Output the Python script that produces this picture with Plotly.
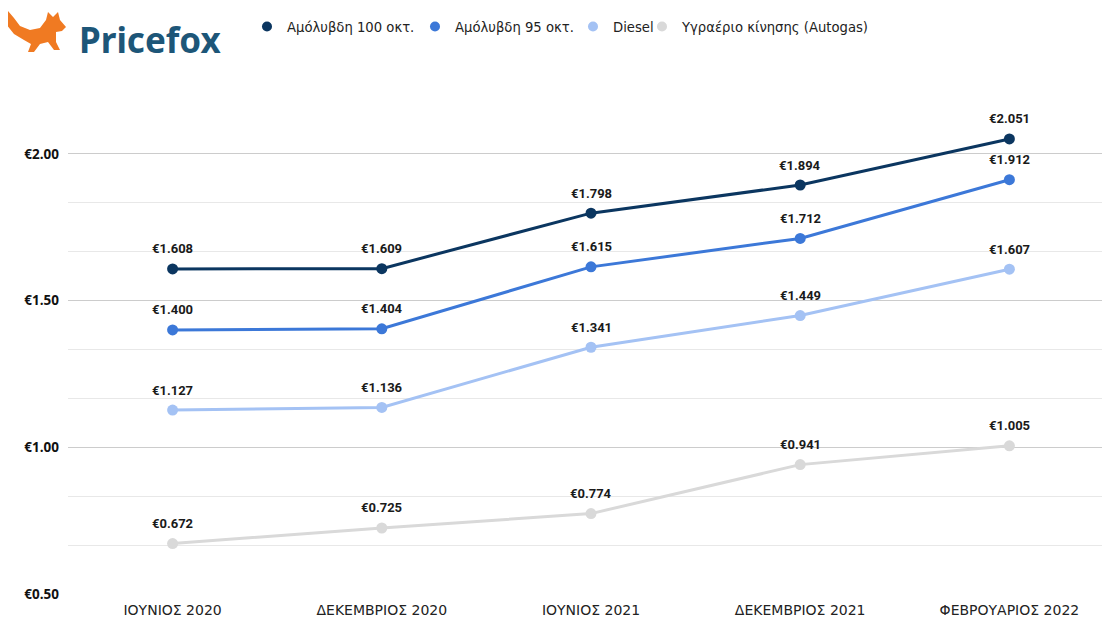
import plotly.graph_objects as go

categories = ["ΙΟΥΝΙΟΣ 2020", "ΔΕΚΕΜΒΡΙΟΣ 2020", "ΙΟΥΝΙΟΣ 2021", "ΔΕΚΕΜΒΡΙΟΣ 2021", "ΦΕΒΡΟΥΑΡΙΟΣ 2022"]
unleaded100 = [1.608, 1.609, 1.798, 1.894, 2.051]
unleaded95 = [1.400, 1.404, 1.615, 1.712, 1.912]
diesel = [1.127, 1.136, 1.341, 1.449, 1.607]
autogas = [0.672, 0.725, 0.774, 0.941, 1.005]
series_names = ["Αμόλυβδη 100 οκτ.", "Αμόλυβδη 95 οκτ.", "Diesel", "Υγραέριο κίνησης (Autogas)"]
colors = ["#0b3660", "#3c78d8", "#a4c2f4", "#d9d9d9"]
ytick_vals = [0.5, 1.0, 1.5, 2.0]
ytick_text = ["€0.50", "€1.00", "€1.50", "€2.00"]

# page has 8px body margin, so figure coords = page coords - 8
L, T, B, R = 60, 97, 43, 4
W, H = 1110, 629
PW, PH = W - L - R, H - T - B

def dom(xp, yp):
    xf, yf = xp - 8, yp - 8
    return (xf - L) / PW, (H - B - yf) / PH

fig = go.Figure()
xs = list(range(len(categories)))
for name, vals, col in zip(series_names, [unleaded100, unleaded95, diesel, autogas], colors):
    fig.add_trace(go.Scatter(
        x=xs, y=vals, name=name, mode="lines+markers", showlegend=False,
        line=dict(color=col, width=3), marker=dict(color=col, size=11),
        cliponaxis=False,
    ))
    for xi, v in zip(xs, vals):
        fig.add_annotation(x=xi, y=v, text=f"€{v:.3f}", showarrow=False, yshift=20,
                           font=dict(family="Roboto", size=13, color="#1a1a1a", weight="bold"))

# legend entries: dots only, each in its own legend box for exact placement
legend_ids = ["legend", "legend2", "legend3", "legend4"]
legend_marker_px = [268, 436, 594, 663]
for name, col, lid in zip(series_names, colors, legend_ids):
    fig.add_trace(go.Scatter(x=[None], y=[None], name=name, mode="markers", legend=lid,
                             marker=dict(color=col, size=10)))

layout_legends = {}
for lid, mx in zip(legend_ids, legend_marker_px):
    layout_legends[lid] = dict(orientation="h", x=(mx - 29) / W, xref="container", y=1 - 19 / H,
                               yref="container", yanchor="middle", xanchor="left",
                               font=dict(family="DejaVu Sans", size=13.2, color="#222"),
                               itemwidth=30, itemclick=False, bgcolor="rgba(0,0,0,0)")

fig.update_layout(
    width=W, height=H,
    margin=dict(l=L, r=R, t=T, b=B),
    paper_bgcolor="white", plot_bgcolor="white",
    showlegend=True,
    xaxis=dict(range=[-0.5, 4.5], tickmode="array", tickvals=xs,
               ticktext=categories, showgrid=False, zeroline=False, showline=False,
               ticklabelstandoff=6,
               tickfont=dict(family="DejaVu Sans", size=14, color="#222")),
    yaxis=dict(range=[0.5, 2.1667], tickmode="array", tickvals=ytick_vals, ticktext=ytick_text,
               showgrid=True, gridcolor="#cccccc", gridwidth=1, zeroline=False, showline=False,
               tickfont=dict(family="Open Sans", size=13.5, color="#111", weight="bold"),
               ticklabelstandoff=8,
               minor=dict(tickmode="linear", tick0=0.5, dtick=1/6, showgrid=True, gridcolor="#e8e8e8", gridwidth=1)),
    **layout_legends,
)

# Logo text
lx, ly = dom(77, 40)
fig.add_annotation(text="<b>Pricefox</b>", x=lx, y=ly, xref="x domain", yref="y domain", showarrow=False,
                   xanchor="left", yanchor="middle", font=dict(family="Noto Sans", size=35, color="#1d5678"))

# simple fox silhouette (page pixel outline)
fox_pts = [(1, 14), (8, 11), (14, 18), (20, 26), (30, 30), (40, 28), (46, 20), (48, 12), (53, 17),
           (58, 12), (60, 20), (66, 27), (62, 31), (56, 32), (56, 42), (60, 50), (54, 50), (48, 42),
           (40, 44), (34, 52), (28, 52), (31, 44), (24, 40), (14, 34), (6, 24)]
path = []
for k, (px, py) in enumerate(fox_pts):
    dx, dy = dom(px, py)
    path.append(("M" if k == 0 else "L") + f" {dx:.5f} {dy:.5f}")
path.append("Z")
fig.add_shape(type="path", xref="x domain", yref="y domain", path=" ".join(path),
              fillcolor="#f07a22", line=dict(width=0), layer="above")

fig.write_html("out.html")
